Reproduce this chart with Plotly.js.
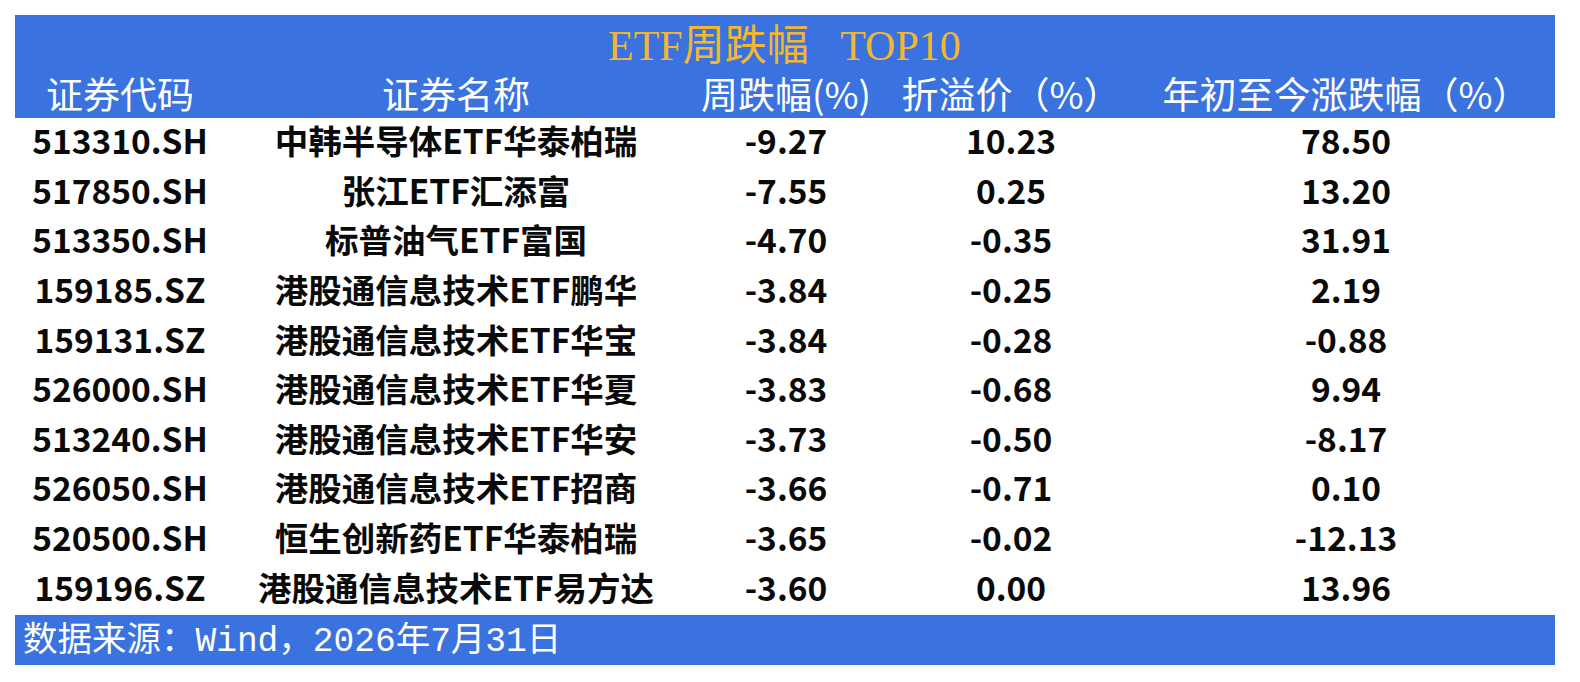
<!DOCTYPE html>
<html>
<head>
<meta charset="utf-8">
<script src="https://cdn.plot.ly/plotly-3.0.1.min.js"></script>
<style>html,body{margin:0;padding:0;background:#fff;}#chart{width:1580px;height:682px;}</style>
</head>
<body>
<div id="chart"></div>
<script>
const chartTitle = "ETF周跌幅\u00a0\u00a0\u00a0TOP10";
const sourceNote = "数据来源：Wind，2026年7月31日";
const headers = ["证券代码", "证券名称", "周跌幅(%)", "折溢价（%）", "年初至今涨跌幅（%）"];
const codes = ["513310.SH","517850.SH","513350.SH","159185.SZ","159131.SZ","526000.SH","513240.SH","526050.SH","520500.SH","159196.SZ"];
const names = ["中韩半导体ETF华泰柏瑞","张江ETF汇添富","标普油气ETF富国","港股通信息技术ETF鹏华","港股通信息技术ETF华宝","港股通信息技术ETF华夏","港股通信息技术ETF华安","港股通信息技术ETF招商","恒生创新药ETF华泰柏瑞","港股通信息技术ETF易方达"];
const weeklyChange = [-9.27,-7.55,-4.70,-3.84,-3.84,-3.83,-3.73,-3.66,-3.65,-3.60];
const premium = [10.23,0.25,-0.35,-0.25,-0.28,-0.68,-0.50,-0.71,-0.02,0.00];
const ytdChange = [78.50,13.20,31.91,2.19,-0.88,9.94,-8.17,0.10,-12.13,13.96];

const BLUE = "#3A72E0";
const W = 1580, H = 682;
const px = v => v / W;
const py = v => 1 - v / H;

const fmt = a => a.map(v => v.toFixed(2));

const trace = {
  type: "table",
  domain: {x: [px(15), px(1555)], y: [py(650), py(73)]},
  columnwidth: [210, 462, 198, 252, 418],
  header: {
    values: headers,
    align: "center",
    height: 48,
    fill: {color: "rgba(0,0,0,0)"},
    line: {color: "rgba(0,0,0,0)", width: 0},
    font: {family: "Noto Sans CJK SC", size: 37, color: "#ffffff"}
  },
  cells: {
    values: [codes, names, fmt(weeklyChange), fmt(premium), fmt(ytdChange)],
    align: "center",
    height: 49.6,
    fill: {color: "rgba(0,0,0,0)"},
    line: {color: "rgba(0,0,0,0)", width: 0},
    font: {family: "Noto Sans CJK SC", size: 33.5, color: "#0a0a0a", weight: 700}
  }
};

const layout = {
  width: W, height: H,
  margin: {l: 0, r: 0, t: 0, b: 0},
  paper_bgcolor: "#ffffff",
  plot_bgcolor: "#ffffff",
  showlegend: false,
  shapes: [
    {type: "rect", xref: "paper", yref: "paper", x0: px(15), x1: px(1555), y0: py(118), y1: py(15), fillcolor: BLUE, line: {width: 0}, layer: "below"},
    {type: "rect", xref: "paper", yref: "paper", x0: px(15), x1: px(1555), y0: py(665), y1: py(615), fillcolor: BLUE, line: {width: 0}, layer: "below"}
  ],
  annotations: [
    {text: chartTitle, xref: "paper", yref: "paper", x: px(784), y: py(46), xanchor: "center", yanchor: "middle", showarrow: false,
     font: {family: "Liberation Serif, Noto Sans CJK SC", size: 42, color: "#F2B632"}},
    {text: sourceNote, xref: "paper", yref: "paper", x: px(21), y: py(641), xanchor: "left", yanchor: "middle", showarrow: false,
     font: {family: "Liberation Mono, Noto Sans CJK SC", size: 34.5, color: "#ffffff"}}
  ]
};

Plotly.newPlot("chart", [trace], layout, {displayModeBar: false, staticPlot: true});
</script>
</body>
</html>
